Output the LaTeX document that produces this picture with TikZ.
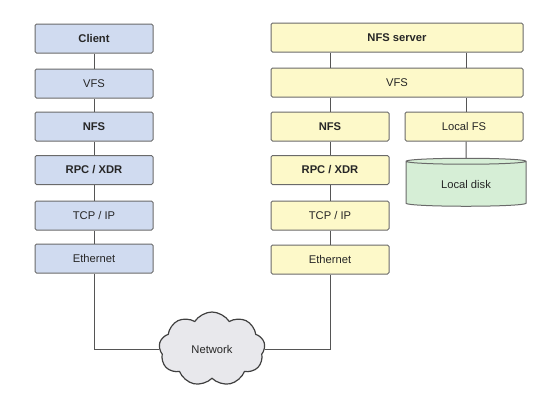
\documentclass[tikz,border=0pt]{standalone}
\usepackage{fontspec}
\setmainfont{Liberation Sans}
\usetikzlibrary{shapes.geometric,shapes.symbols,calc}
\definecolor{bluefill}{HTML}{D0DBF0}
\definecolor{yellowfill}{HTML}{FDF9C9}
\definecolor{greenfill}{HTML}{D6EED6}
\definecolor{cloudfill}{HTML}{E8E8EC}
\definecolor{edge}{HTML}{6A6A6A}
\begin{document}
\begin{tikzpicture}[x=1pt,y=-1pt,
  font=\fontsize{11.2}{13}\selectfont,
  layer/.style={draw=edge,line width=1pt,rounded corners=1.5pt,minimum height=29pt,inner sep=0pt,text=black!85},
  cbox/.style={layer,fill=bluefill,minimum width=118pt},
  sbox/.style={layer,fill=yellowfill,minimum width=118pt},
  wbox/.style={layer,fill=yellowfill,minimum width=252pt},
  bld/.style={font=\fontsize{11.2}{13}\selectfont\bfseries},
  link/.style={draw=edge!80!black,line width=1pt}]
\useasboundingbox (0,0) rectangle (555,408);
% client stack
\node[cbox,bld] (c1) at (94,38.5) {Client};
\node[cbox] (c2) at (94,83.5) {VFS};
\node[cbox,bld] (c3) at (94,126.5) {NFS};
\node[cbox,bld] (c4) at (94,170) {RPC / XDR};
\node[cbox] (c5) at (94,215.5) {TCP / IP};
\node[cbox] (c6) at (94,258.5) {Ethernet};
% server stack
\node[wbox,bld] (s1) at (397,37.5) {NFS server};
\node[wbox] (s2) at (397,82.5) {VFS};
\node[sbox,bld] (s3) at (330,126.5) {NFS};
\node[sbox] (lfs) at (464,126.5) {Local FS};
\node[sbox,bld] (s4) at (330,170) {RPC / XDR};
\node[sbox] (s5) at (330,215.5) {TCP / IP};
\node[sbox] (s6) at (330,259.5) {Ethernet};
\node[cylinder,shape border rotate=90,aspect=0.12,draw=edge,line width=1pt,
  cylinder uses custom fill,cylinder body fill=greenfill,cylinder end fill=greenfill,
  minimum width=120pt,minimum height=48pt,inner sep=0pt,text=black!85] (disk) at (466,184) {Local disk};
\node[cloud,cloud puffs=9,cloud puff arc=115,aspect=1.45,draw=black!75,line width=1.2pt,
  fill=cloudfill,minimum width=106pt,minimum height=74pt,inner sep=0pt,text=black!85] (net) at (212,349) {Network};
% connectors
\draw[link] (c1) -- (c2);
\draw[link] (c2) -- (c3);
\draw[link] (c3) -- (c4);
\draw[link] (c4) -- (c5);
\draw[link] (c5) -- (c6);
\draw[link] (s1.south -| s3) -- (s2.north -| s3);
\draw[link] (s1.south -| disk) -- (s2.north -| disk);
\draw[link] (s2.south -| s3) -- (s3.north);
\draw[link] (s2.south -| disk) -- (lfs.north -| disk);
\draw[link] (s3) -- (s4);
\draw[link] (s4) -- (s5);
\draw[link] (s5) -- (s6);
\draw[link] (lfs.south -| disk) -- (disk.north);
\draw[link] (c6.south) |- (net.west);
\draw[link] (s6.south) |- (net.east);
\end{tikzpicture}
\end{document}
